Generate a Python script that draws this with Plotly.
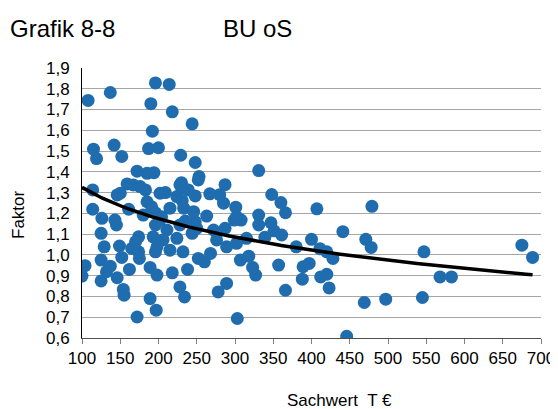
import numpy as np
import plotly.graph_objects as go

# Sachwert (T €) and Faktor
sachwert = [108, 137, 196, 214, 190, 218, 244, 192, 115, 119, 142, 152, 187, 200, 229, 248, 253, 287,
            172, 185, 194, 114, 230, 267, 280, 331, 348, 360, 366, 407, 479, 301, 308, 331, 331, 347,
            351, 361, 315, 302, 339, 380, 400, 411, 420, 428, 441, 471, 478, 307, 318, 323, 327, 357,
            389, 397, 388, 412, 420, 423, 366, 469, 497, 303, 446, 547, 545, 568, 583, 675, 689, 100,
            104, 114, 126, 143, 145, 125, 129, 125, 137, 132, 125, 146, 149, 152, 154, 155, 162, 172,
            175, 165, 170, 174, 189, 197, 189, 198, 193, 196, 206, 215, 218, 228, 234, 238, 232, 211,
            224, 252, 260, 268, 276, 278, 289, 289, 272, 263, 287, 299, 248, 235, 202, 204, 196, 180,
            161, 150, 159, 167, 176, 183, 202, 209, 228, 233, 239, 248, 224, 252, 285, 302, 185, 191,
            146, 196, 215, 231, 233, 246, 228, 244, 250, 198, 174]
faktor = [1.744, 1.782, 1.828, 1.821, 1.728, 1.689, 1.631, 1.596, 1.509, 1.464, 1.529, 1.474, 1.512,
          1.516, 1.480, 1.445, 1.377, 1.338, 1.403, 1.393, 1.396, 1.313, 1.348, 1.294, 1.290, 1.406,
          1.291, 1.252, 1.203, 1.222, 1.234, 1.230, 1.168, 1.192, 1.144, 1.155, 1.116, 1.096, 1.080,
          1.056, 1.085, 1.039, 1.075, 1.030, 1.015, 0.983, 1.112, 1.075, 1.036, 0.975, 0.994, 0.940,
          0.903, 0.951, 0.943, 0.959, 0.883, 0.894, 0.907, 0.841, 0.830, 0.771, 0.787, 0.694, 0.608,
          1.015, 0.795, 0.894, 0.894, 1.047, 0.988, 0.898, 0.948, 1.220, 1.176, 1.168, 1.144, 1.104,
          1.039, 0.975, 0.946, 0.919, 0.875, 0.890, 1.043, 0.988, 0.834, 0.806, 0.930, 0.701, 0.983,
          1.031, 1.063, 1.087, 0.790, 0.734, 0.940, 0.903, 1.087, 1.015, 1.072, 1.023, 0.914, 0.846,
          0.798, 0.930, 1.015, 1.120, 1.080, 0.983, 0.967, 1.007, 1.072, 0.822, 0.863, 1.039, 1.120,
          1.187, 1.128, 1.168, 1.160, 1.163, 1.168, 1.184, 1.144, 1.192, 1.220, 1.297, 1.342, 1.337,
          1.329, 1.313, 1.297, 1.300, 1.337, 1.321, 1.313, 1.284, 1.281, 1.361, 1.249, 1.184, 1.256,
          1.232, 1.289, 1.203, 1.225, 1.261, 1.225, 1.208, 1.144, 1.104, 1.128, 1.039, 1.015]

# logarithmic trend line  y = a + b*ln(x), coefficients
trend_a = 2.329
trend_b = -0.218

x_ticks = list(range(100, 701, 50))
y_ticks = [round(0.6 + 0.1 * i, 1) for i in range(14)]

FONT = "Liberation Sans, Arial, sans-serif"

tx = np.linspace(min(sachwert), max(sachwert), 200)
ty = trend_a + trend_b * np.log(tx)

# the page body has an 8px margin, so the figure is 8px smaller than the window
W, H = 550, 401
pl, pt = 74, 60          # plot-area left / top in figure pixels
pr_edge, pb_edge = 533, 330  # plot-area right / bottom in figure pixels
pw, ph = pr_edge - pl, pb_edge - pt

fig = go.Figure()
fig.add_trace(go.Scatter(x=sachwert, y=faktor, mode="markers",
                         marker=dict(size=13, color="#1F6DAE", line=dict(width=0)),
                         showlegend=False, hoverinfo="skip"))
fig.add_trace(go.Scatter(x=tx, y=ty, mode="lines",
                         line=dict(color="black", width=3.5),
                         showlegend=False, hoverinfo="skip"))


def px(x, y):
    return (x - pl) / pw, 1 - (y - pt) / ph


annots = []
for text, x, y, xa, size, ang in [
    ("Grafik 8-8", 0, 20, "left", 24, 0),
    ("BU oS", 213, 20, "left", 24, 0),
    ("Faktor", 10, 207, "center", 17, -90),
    ("Sachwert\u00a0\u00a0T €", 331, 392, "center", 17, 0),
]:
    ax, ay = px(x, y)
    annots.append(dict(text=text, x=ax, y=ay, xref="paper", yref="paper", showarrow=False,
                       xanchor=xa, yanchor="middle", textangle=ang,
                       font=dict(family=FONT, size=size, color="black")))

fig.update_layout(
    width=W, height=H,
    margin=dict(l=pl, r=W - pr_edge, t=pt, b=H - pb_edge, autoexpand=False),
    paper_bgcolor="white", plot_bgcolor="white",
    separators=",.",
    font=dict(family=FONT, size=17, color="black"),
    xaxis=dict(range=[100, 700], tickvals=x_ticks, ticks="outside", ticklen=5,
               tickcolor="#808080", tickwidth=1, showline=True, linecolor="#505050",
               linewidth=1, showgrid=False, zeroline=False,
               tickfont=dict(family=FONT, size=17, color="black")),
    yaxis=dict(range=[0.6, 1.9], tickvals=y_ticks, tickformat=".1f", ticks="",
               showline=True, linecolor="black", linewidth=1, showgrid=True,
               gridcolor="#a6a6a6", gridwidth=1, zeroline=False, ticklabelstandoff=8,
               tickfont=dict(family=FONT, size=17, color="black")),
    annotations=annots,
)

fig.write_html("out.html")
